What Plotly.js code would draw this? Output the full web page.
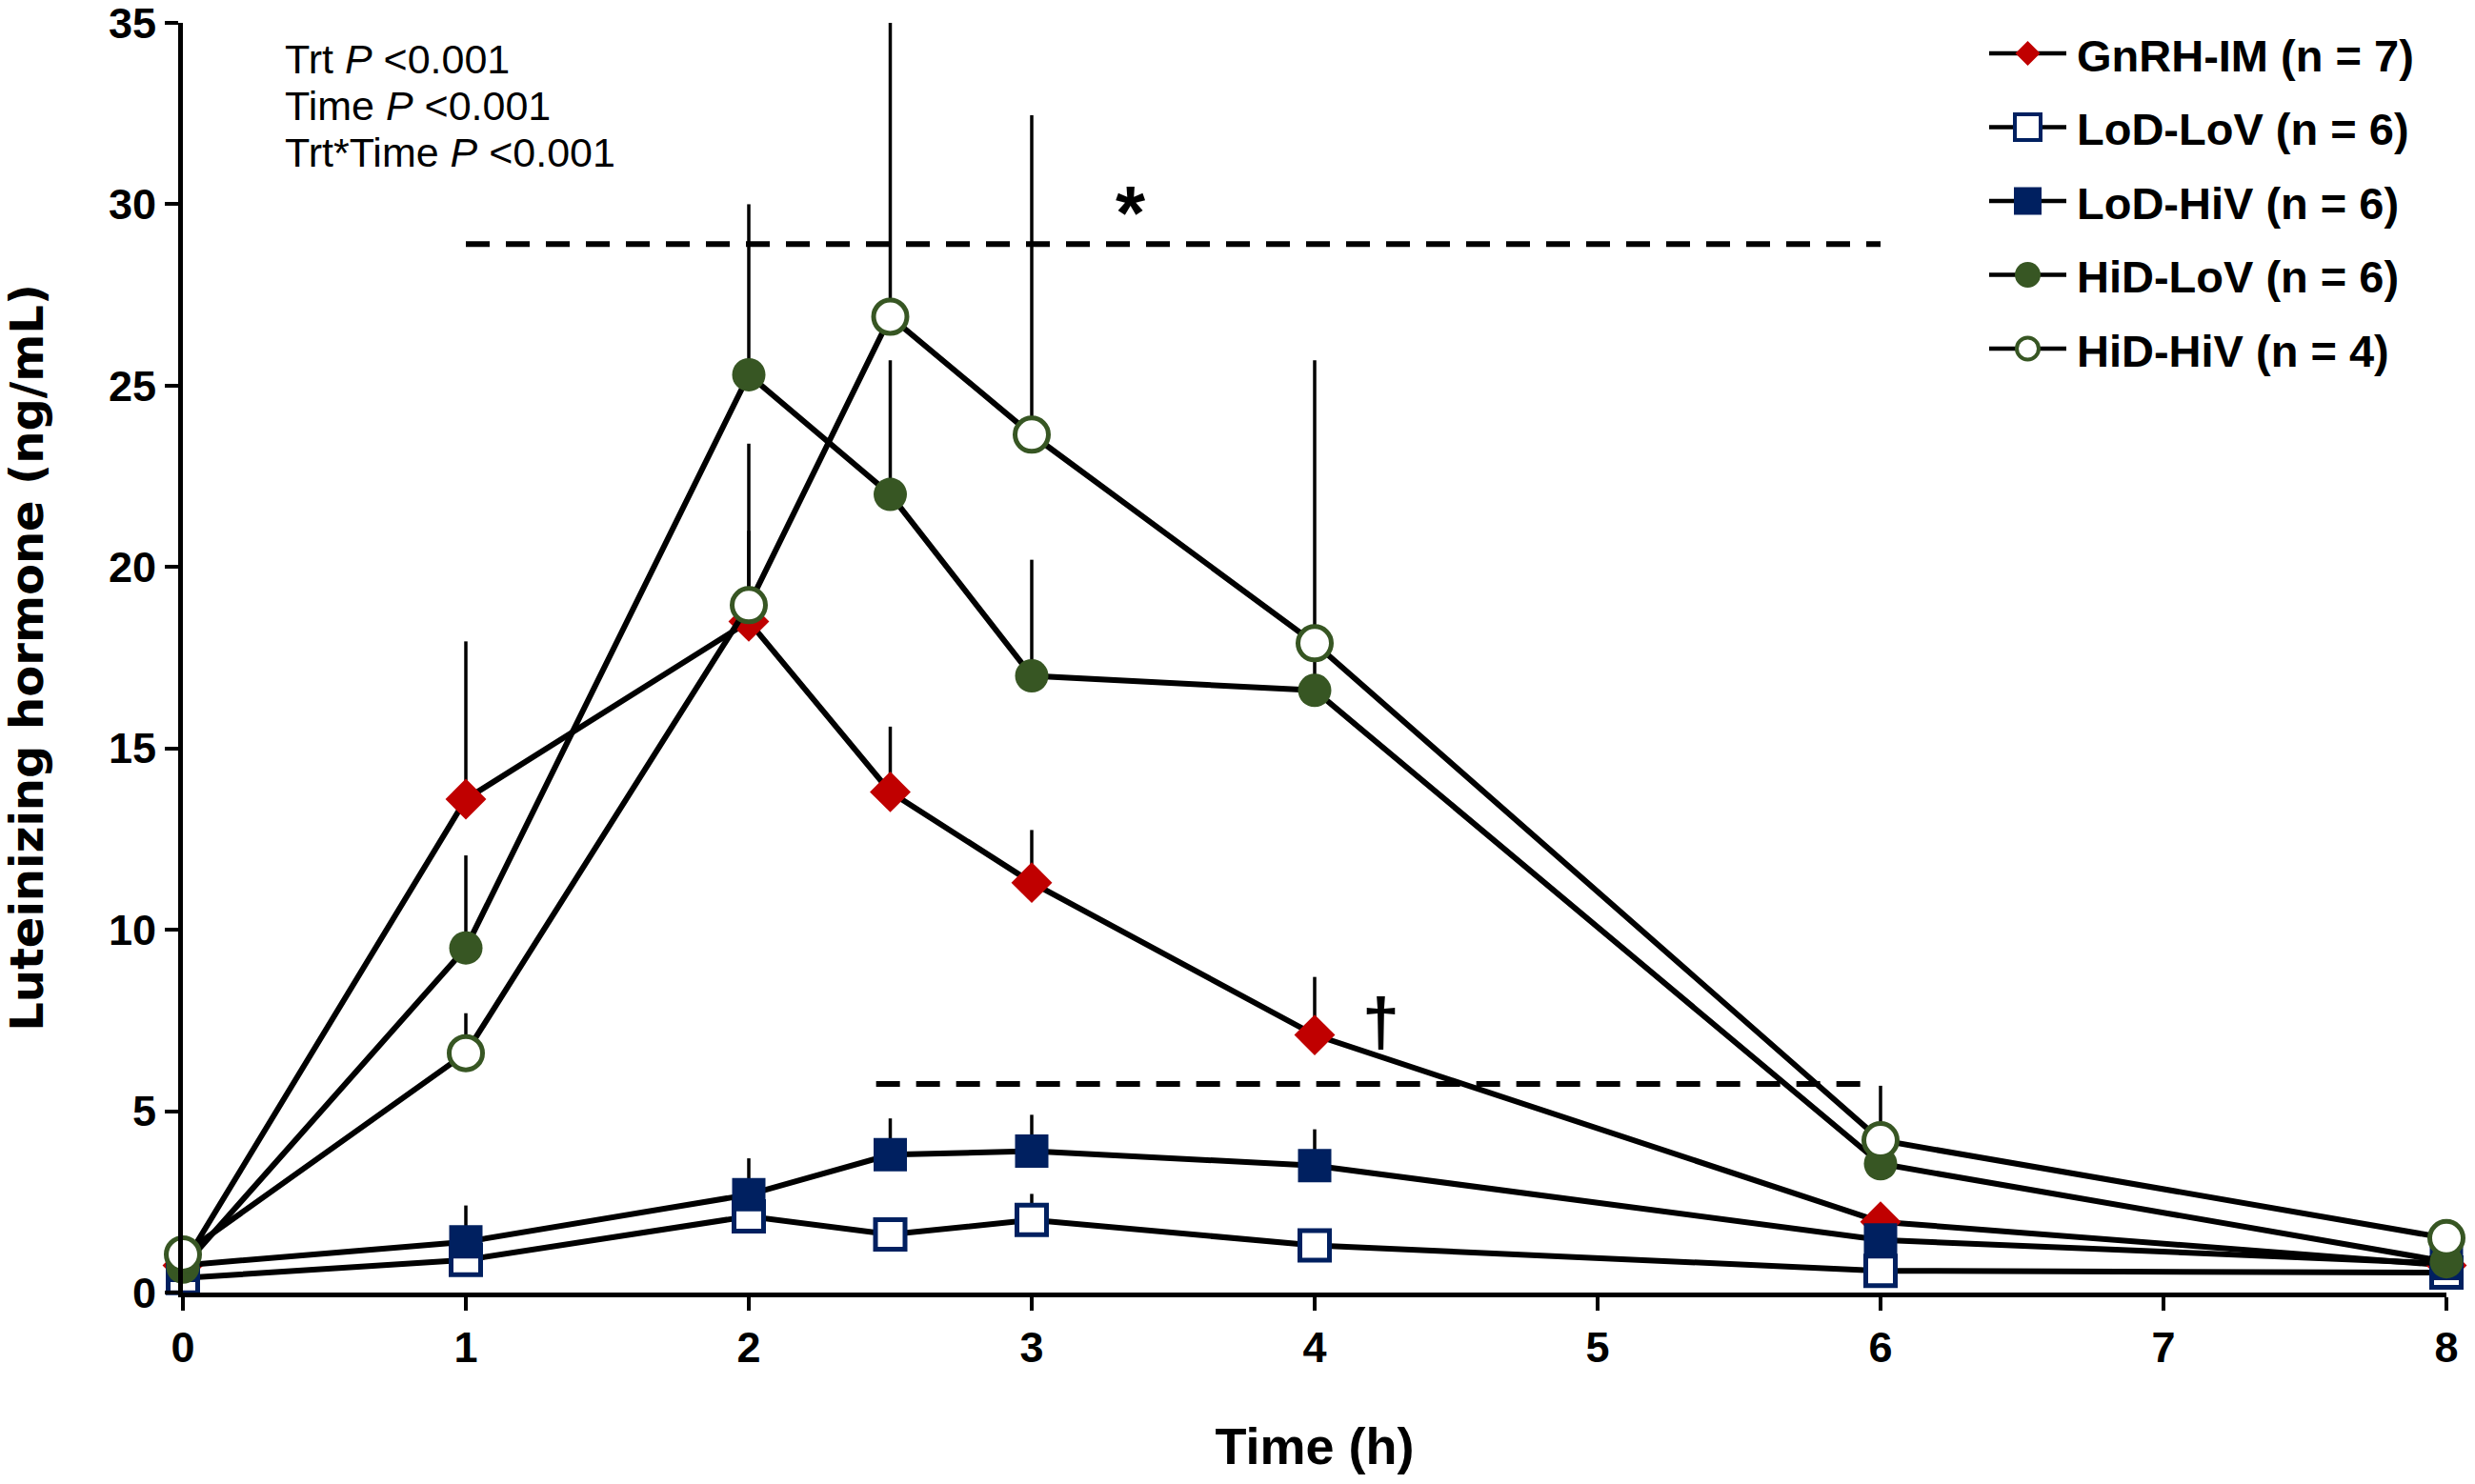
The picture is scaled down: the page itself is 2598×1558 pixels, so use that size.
<!DOCTYPE html>
<html>
<head>
<meta charset="utf-8">
<script src="https://cdn.plot.ly/plotly-3.0.1.min.js"></script>
<style>
  html, body { margin: 0; padding: 0; background: #fff; }
  #chart { width: 2598px; height: 1558px; }
</style>
</head>
<body>
<div id="chart"></div>
<script>
// sampling times (h)
const timeH = [0, 1, 2, 2.5, 3, 4, 6, 8]

// means and upper SEM
const gnrhIM = [0.75, 13.6, 18.5, 13.8, 11.3, 7.1, 1.95, 0.75]
const gnrhIMse = [0.2, 4.35, 2.5, 1.8, 1.45, 1.6, 0.4, 0.15]
const lodLoV = [0.4, 0.9, 2.1, 1.6, 2.0, 1.3, 0.6, 0.55]
const lodLoVse = [0.1, 0.3, 0.4, 0.3, 0.72, 0.3, 0.15, 0.1]
const lodHiV = [0.75, 1.4, 2.7, 3.8, 3.9, 3.5, 1.45, 0.8]
const lodHiVse = [0.1, 1.0, 1.0, 1.0, 1.0, 1.0, 0.3, 0.15]
const hidLoV = [0.7, 9.5, 25.3, 22.0, 17.0, 16.6, 3.55, 0.85]
const hidLoVse = [0.2, 2.55, 4.7, 3.7, 3.2, 0.9, 0.6, 0.2]
const hidHiV = [1.05, 6.6, 18.95, 26.9, 23.65, 17.9, 4.2, 1.5]
const hidHiVse = [0.2, 1.1, 4.45, 8.1, 8.8, 7.8, 1.5, 0.3]

const seriesNames = ['GnRH-IM (n = 7)', 'LoD-LoV (n = 6)', 'LoD-HiV (n = 6)', 'HiD-LoV (n = 6)', 'HiD-HiV (n = 4)']

// significance bars and their marks
const sigX0 = [1, 2.45]
const sigX1 = [6, 5.95]
const sigY = [28.9, 5.75]
const sigMarkX = [3.35, 4.235]
const sigMarkY = [29.75, 7.45]
const sigMarks = ['*', '†']

const statLines = ['Trt <i>P</i> <0.001', 'Time <i>P</i> <0.001', 'Trt*Time <i>P</i> <0.001']

const yTicks = [0, 5, 10, 15, 20, 25, 30, 35]
const xTicks = [0, 1, 2, 3, 4, 5, 6, 7, 8]

const RED = '#C00000'
const NAVY = '#002060'
const GREEN = '#375623'

const FONT = 'Liberation Sans, Arial, sans-serif'

// marker styles in plot and in the hand-made legend
const styles = [
  { symbol: 'diamond', size: 33, color: RED, line: { width: 0 }, lsize: 20 },
  { symbol: 'square', size: 31, color: '#fff', line: { color: NAVY, width: 5 }, lsize: 27 },
  { symbol: 'square', size: 35, color: NAVY, line: { width: 0 }, lsize: 29 },
  { symbol: 'circle', size: 35, color: GREEN, line: { width: 0 }, lsize: 27 },
  { symbol: 'circle', size: 35, color: '#fff', line: { color: GREEN, width: 5 }, lsize: 23 }
]

const means = [gnrhIM, lodLoV, lodHiV, hidLoV, hidHiV]
const sems = [gnrhIMse, lodLoVse, lodHiVse, hidLoVse, hidHiVse]

let data = []
// drawing order as in the original (later series sit on top)
seriesNames.forEach(function (name, i) {
  let st = styles[i]
  data.push({
    x: timeH,
    y: means[i],
    type: 'scatter',
    mode: 'lines+markers',
    name: name,
    showlegend: false,
    cliponaxis: false,
    line: { color: '#000', width: 6 },
    marker: { symbol: st.symbol, size: st.size, color: st.color, line: st.line },
    error_y: {
      type: 'data',
      symmetric: false,
      array: sems[i],
      arrayminus: sems[i].map(() => 0),
      color: '#000',
      thickness: 3.5,
      width: 0
    }
  })
})

// legend drawn on a pixel-scaled overlay axis pair
const legX0 = 2088, legX1 = 2169, legTextX = 2178
const legRow0 = 56, legRowStep = 77.5
let legendAnn = []
seriesNames.forEach(function (name, i) {
  let st = styles[i]
  let ry = legRow0 + i * legRowStep
  data.push({
    x: [legX0, legX1], y: [ry, ry], xaxis: 'x2', yaxis: 'y2',
    type: 'scatter', mode: 'lines', showlegend: false, hoverinfo: 'skip',
    line: { color: '#000', width: 4.5 }
  })
  data.push({
    x: [(legX0 + legX1) / 2], y: [ry], xaxis: 'x2', yaxis: 'y2',
    type: 'scatter', mode: 'markers', showlegend: false, hoverinfo: 'skip',
    marker: { symbol: st.symbol, size: st.lsize, color: st.color,
      line: { color: st.line.color || st.color, width: st.line.width ? 4 : 0 } }
  })
  legendAnn.push({
    xref: 'x2', yref: 'y2', x: legTextX, y: ry + 2,
    xanchor: 'left', yanchor: 'middle', showarrow: false,
    text: name, font: { family: FONT, size: 47, weight: 'bold', color: '#000' }
  })
})

let shapes = sigY.map(function (y, i) {
  return {
    type: 'line', xref: 'x', yref: 'y',
    x0: sigX0[i], x1: sigX1[i], y0: y, y1: y,
    line: { color: '#000', width: 6, dash: '25px,17px' }
  }
})

let annotations = statLines.map(function (t, i) {
  return {
    xref: 'paper', yref: 'paper', x: 0.0442, y: 0.9715 - i * 0.0368,
    xanchor: 'left', yanchor: 'middle', showarrow: false,
    text: t, font: { family: FONT, size: 43, color: '#000' }
  }
})
sigMarks.forEach(function (m, i) {
  annotations.push({
    xref: 'x', yref: 'y', x: sigMarkX[i], y: sigMarkY[i],
    xanchor: 'center', yanchor: 'middle', showarrow: false,
    text: m, font: { family: FONT, size: i == 0 ? 80 : 70, weight: 'bold', color: '#000' }
  })
})
annotations = annotations.concat(legendAnn)

let layout = {
  width: 2598,
  height: 1558,
  margin: { l: 192, r: 30, t: 24, b: 201 },
  paper_bgcolor: '#fff',
  plot_bgcolor: '#fff',
  showlegend: false,
  hovermode: false,
  xaxis: {
    range: [0, 8],
    tickvals: xTicks,
    ticks: 'outside',
    ticklen: 14,
    tickwidth: 4,
    tickcolor: '#000',
    showline: true,
    linewidth: 5,
    linecolor: '#000',
    showgrid: false,
    zeroline: false,
    ticklabeloverflow: 'allow',
    tickfont: { family: FONT, size: 45, weight: 'bold', color: '#000' },
    title: {
      text: 'Time (h)',
      standoff: 62,
      font: { family: FONT, size: 54, weight: 'bold', color: '#000' }
    }
  },
  yaxis: {
    range: [0, 35],
    tickvals: yTicks,
    ticks: 'outside',
    ticklen: 14,
    tickwidth: 4,
    tickcolor: '#000',
    showline: true,
    linewidth: 5,
    linecolor: '#000',
    showgrid: false,
    zeroline: false,
    ticklabeloverflow: 'allow',
    tickfont: { family: FONT, size: 45, weight: 'bold', color: '#000' },
    title: {
      text: 'Luteinizing hormone (ng/mL)',
      standoff: 62,
      font: { family: 'DejaVu Sans, Verdana, sans-serif', size: 48, weight: 'bold', color: '#000' }
    }
  },
  xaxis2: { overlaying: 'x', anchor: 'y2', range: [192, 2568], visible: false, fixedrange: true },
  yaxis2: { overlaying: 'y', anchor: 'x2', range: [1357, 24], visible: false, fixedrange: true },
  shapes: shapes,
  annotations: annotations
}

let config = { displayModeBar: false, responsive: false, staticPlot: true }

Plotly.newPlot('chart', data, layout, config)
</script>
</body>
</html>
